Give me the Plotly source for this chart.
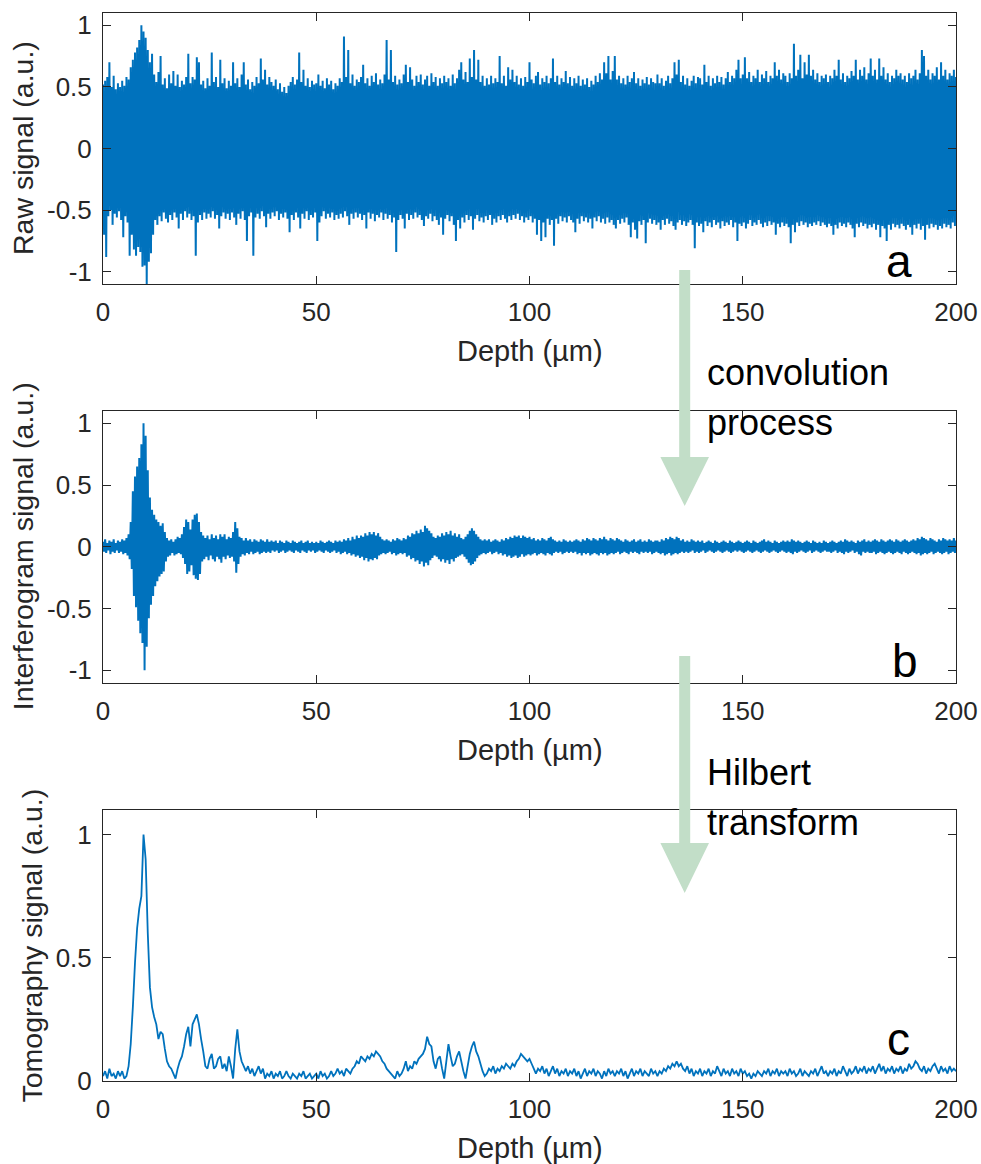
import plotly.graph_objects as go

# ---------------- data ----------------
depth_step = 0.5  # µm between samples
n_samples = 401   # 0 .. 200 µm
depth = [i * depth_step for i in range(n_samples)]

# (a) raw signal: upper / lower extremes of the dense oscillation at each sample
raw_upper = [
    0.52,0.55,0.58,0.70,0.50,0.59,0.48,0.53,0.50,0.55,0.51,0.58,0.56,0.66,0.72,0.78,0.82,0.88,1.00,0.95,
    0.90,0.80,0.70,0.77,0.60,0.54,0.62,0.75,0.52,0.57,0.49,0.60,0.53,0.63,0.51,0.60,0.50,0.55,0.52,0.58,
    0.77,0.53,0.58,0.56,0.74,0.70,0.52,0.55,0.49,0.57,0.51,0.78,0.54,0.58,0.50,0.72,0.53,0.57,0.49,0.55,
    0.51,0.70,0.53,0.57,0.50,0.60,0.70,0.52,0.56,0.48,0.54,0.51,0.58,0.53,0.73,0.56,0.64,0.52,0.58,0.54,
    0.51,0.56,0.48,0.53,0.46,0.50,0.45,0.51,0.54,0.58,0.52,0.56,0.78,0.54,0.64,0.51,0.57,0.50,0.55,0.52,
    0.53,0.60,0.51,0.55,0.49,0.57,0.52,0.55,0.48,0.53,0.51,0.57,0.54,0.91,0.58,0.80,0.53,0.60,0.51,0.56,
    0.54,0.58,0.68,0.53,0.57,0.51,0.59,0.54,0.61,0.52,0.56,0.53,0.60,0.88,0.56,0.80,0.54,0.59,0.52,0.56,
    0.53,0.60,0.68,0.54,0.66,0.56,0.51,0.59,0.54,0.60,0.52,0.56,0.59,0.51,0.61,0.54,0.58,0.51,0.57,0.53,
    0.59,0.54,0.57,0.51,0.60,0.53,0.57,0.64,0.70,0.56,0.62,0.54,0.73,0.58,0.80,0.56,0.72,0.54,0.59,0.51,
    0.57,0.52,0.59,0.53,0.57,0.54,0.75,0.53,0.59,0.51,0.66,0.56,0.64,0.54,0.59,0.52,0.57,0.51,0.58,0.54,
    0.70,0.56,0.53,0.59,0.62,0.52,0.57,0.54,0.59,0.53,0.57,0.73,0.54,0.59,0.52,0.57,0.54,0.63,0.53,0.58,
    0.51,0.57,0.53,0.59,0.51,0.56,0.52,0.57,0.50,0.55,0.52,0.59,0.54,0.61,0.56,0.70,0.61,0.75,0.56,0.63,
    0.75,0.56,0.59,0.53,0.57,0.52,0.59,0.54,0.57,0.62,0.53,0.57,0.51,0.56,0.53,0.58,0.52,0.57,0.54,0.53,
    0.60,0.53,0.57,0.51,0.55,0.59,0.53,0.57,0.70,0.60,0.72,0.54,0.59,0.52,0.57,0.51,0.55,0.59,0.53,0.58,
    0.57,0.52,0.68,0.54,0.59,0.51,0.57,0.53,0.59,0.54,0.58,0.52,0.57,0.62,0.54,0.59,0.57,0.64,0.72,0.57,
    0.60,0.74,0.57,0.62,0.54,0.59,0.57,0.64,0.54,0.60,0.57,0.63,0.54,0.59,0.57,0.70,0.59,0.64,0.56,0.61,
    0.59,0.54,0.61,0.57,0.85,0.59,0.64,0.76,0.57,0.70,0.60,0.76,0.59,0.64,0.56,0.61,0.54,0.59,0.57,0.60,
    0.54,0.59,0.57,0.64,0.59,0.72,0.56,0.61,0.54,0.59,0.57,0.63,0.59,0.72,0.56,0.64,0.59,0.66,0.56,0.61,
    0.73,0.59,0.64,0.56,0.73,0.59,0.66,0.56,0.61,0.54,0.59,0.57,0.64,0.59,0.61,0.56,0.59,0.54,0.61,0.57,
    0.59,0.64,0.56,0.61,0.80,0.75,0.59,0.64,0.56,0.61,0.59,0.66,0.56,0.70,0.59,0.64,0.56,0.61,0.59,0.64,
    0.58,
]
raw_lower = [
    -0.70,-0.88,-0.55,-0.50,-0.62,-0.53,-0.56,-0.51,-0.58,-0.72,-0.55,-0.60,-0.87,-0.70,-0.82,-0.87,-0.80,-0.84,-0.96,-0.95,
    -1.10,-0.92,-0.85,-0.70,-0.58,-0.62,-0.55,-0.59,-0.52,-0.57,-0.60,-0.54,-0.58,-0.52,-0.56,-0.65,-0.53,-0.58,-0.51,-0.56,
    -0.53,-0.58,-0.55,-0.87,-0.60,-0.54,-0.58,-0.52,-0.57,-0.53,-0.56,-0.51,-0.57,-0.54,-0.65,-0.55,-0.52,-0.57,-0.53,-0.58,
    -0.52,-0.56,-0.62,-0.53,-0.57,-0.51,-0.58,-0.75,-0.55,-0.52,-0.87,-0.56,-0.53,-0.57,-0.51,-0.55,-0.64,-0.53,-0.57,-0.52,
    -0.55,-0.51,-0.58,-0.53,-0.56,-0.52,-0.57,-0.68,-0.54,-0.58,-0.52,-0.56,-0.65,-0.53,-0.57,-0.51,-0.58,-0.54,-0.56,-0.52,
    -0.75,-0.60,-0.55,-0.51,-0.57,-0.53,-0.56,-0.52,-0.58,-0.54,-0.57,-0.53,-0.56,-0.51,-0.55,-0.62,-0.53,-0.57,-0.52,-0.56,
    -0.53,-0.58,-0.54,-0.65,-0.52,-0.57,-0.53,-0.59,-0.54,-0.56,-0.52,-0.58,-0.53,-0.57,-0.54,-0.60,-0.56,-0.84,-0.58,-0.54,
    -0.57,-0.65,-0.53,-0.58,-0.54,-0.57,-0.52,-0.56,-0.54,-0.58,-0.63,-0.55,-0.57,-0.53,-0.59,-0.55,-0.58,-0.62,-0.56,-0.70,
    -0.57,-0.54,-0.59,-0.55,-0.62,-0.75,-0.58,-0.65,-0.56,-0.60,-0.54,-0.58,-0.55,-0.66,-0.57,-0.54,-0.59,-0.56,-0.60,-0.55,
    -0.58,-0.54,-0.62,-0.57,-0.60,-0.55,-0.58,-0.54,-0.57,-0.60,-0.55,-0.58,-0.54,-0.57,-0.53,-0.58,-0.55,-0.60,-0.56,-0.58,
    -0.55,-0.60,-0.57,-0.70,-0.58,-0.75,-0.60,-0.72,-0.57,-0.62,-0.58,-0.79,-0.57,-0.61,-0.55,-0.59,-0.56,-0.60,-0.55,-0.58,
    -0.60,-0.68,-0.57,-0.61,-0.55,-0.59,-0.56,-0.60,-0.57,-0.65,-0.56,-0.59,-0.55,-0.60,-0.57,-0.61,-0.56,-0.60,-0.58,-0.62,
    -0.65,-0.58,-0.61,-0.57,-0.60,-0.56,-0.62,-0.72,-0.60,-0.66,-0.73,-0.59,-0.62,-0.58,-0.77,-0.60,-0.57,-0.61,-0.58,-0.62,
    -0.60,-0.66,-0.58,-0.62,-0.57,-0.61,-0.59,-0.63,-0.66,-0.60,-0.58,-0.62,-0.59,-0.63,-0.60,-0.58,-0.62,-0.81,-0.60,-0.63,
    -0.61,-0.68,-0.59,-0.63,-0.60,-0.64,-0.58,-0.62,-0.60,-0.65,-0.59,-0.63,-0.60,-0.62,-0.58,-0.64,-0.60,-0.75,-0.61,-0.63,
    -0.60,-0.65,-0.61,-0.58,-0.63,-0.60,-0.62,-0.58,-0.61,-0.64,-0.60,-0.63,-0.59,-0.62,-0.60,-0.70,-0.61,-0.64,-0.60,-0.63,
    -0.61,-0.64,-0.77,-0.62,-0.68,-0.60,-0.63,-0.59,-0.62,-0.60,-0.64,-0.61,-0.63,-0.60,-0.62,-0.59,-0.63,-0.60,-0.62,-0.64,
    -0.61,-0.63,-0.70,-0.62,-0.65,-0.60,-0.63,-0.61,-0.64,-0.60,-0.62,-0.65,-0.72,-0.61,-0.64,-0.60,-0.63,-0.61,-0.65,-0.62,
    -0.64,-0.61,-0.66,-0.62,-0.72,-0.63,-0.65,-0.75,-0.62,-0.66,-0.61,-0.64,-0.62,-0.65,-0.61,-0.63,-0.66,-0.62,-0.64,-0.70,
    -0.62,-0.65,-0.61,-0.66,-0.63,-0.74,-0.62,-0.65,-0.61,-0.64,-0.62,-0.66,-0.63,-0.65,-0.61,-0.64,-0.62,-0.65,-0.60,-0.63,
    -0.61,
]

# (b) interferogram signal: upper / lower extremes at each sample
interf_upper = [
    0.04,0.06,0.03,0.05,0.04,0.06,0.03,0.05,0.04,0.06,0.05,0.07,0.10,0.20,0.45,0.57,0.65,0.72,0.83,1.00,
    0.90,0.62,0.40,0.30,0.26,0.22,0.20,0.17,0.19,0.12,0.07,0.05,0.06,0.04,0.06,0.08,0.07,0.10,0.16,0.22,
    0.20,0.14,0.22,0.26,0.27,0.20,0.12,0.09,0.07,0.09,0.06,0.10,0.07,0.09,0.06,0.10,0.08,0.10,0.06,0.08,
    0.07,0.12,0.20,0.15,0.08,0.07,0.05,0.07,0.05,0.06,0.04,0.06,0.05,0.04,0.06,0.05,0.04,0.06,0.04,0.05,
    0.04,0.05,0.03,0.05,0.04,0.03,0.05,0.04,0.03,0.05,0.04,0.03,0.04,0.05,0.03,0.04,0.05,0.03,0.04,0.03,
    0.04,0.03,0.05,0.04,0.03,0.04,0.05,0.04,0.03,0.05,0.04,0.05,0.04,0.06,0.05,0.07,0.05,0.08,0.06,0.09,
    0.07,0.09,0.08,0.11,0.09,0.12,0.10,0.12,0.09,0.11,0.08,0.06,0.05,0.06,0.05,0.04,0.06,0.05,0.07,0.06,
    0.05,0.07,0.06,0.09,0.08,0.11,0.10,0.13,0.11,0.14,0.12,0.17,0.15,0.13,0.11,0.08,0.07,0.09,0.08,0.11,
    0.09,0.12,0.10,0.13,0.09,0.11,0.08,0.10,0.07,0.06,0.08,0.10,0.13,0.15,0.13,0.10,0.08,0.06,0.05,0.06,
    0.05,0.06,0.04,0.05,0.06,0.05,0.04,0.06,0.05,0.07,0.06,0.08,0.07,0.09,0.08,0.09,0.07,0.09,0.08,0.07,
    0.08,0.06,0.07,0.05,0.06,0.05,0.07,0.06,0.05,0.07,0.08,0.06,0.05,0.04,0.05,0.04,0.06,0.05,0.04,0.05,
    0.04,0.05,0.06,0.05,0.04,0.06,0.05,0.07,0.06,0.05,0.07,0.06,0.05,0.07,0.06,0.08,0.06,0.05,0.07,0.06,
    0.05,0.07,0.06,0.05,0.04,0.06,0.05,0.04,0.05,0.06,0.04,0.05,0.06,0.04,0.05,0.04,0.06,0.05,0.04,0.05,
    0.05,0.04,0.06,0.05,0.07,0.06,0.08,0.07,0.06,0.08,0.07,0.05,0.06,0.04,0.05,0.04,0.06,0.05,0.04,0.05,
    0.04,0.05,0.03,0.04,0.05,0.04,0.03,0.05,0.04,0.03,0.04,0.05,0.04,0.03,0.05,0.04,0.03,0.04,0.05,0.04,
    0.03,0.04,0.05,0.04,0.03,0.05,0.04,0.03,0.04,0.05,0.06,0.04,0.05,0.04,0.03,0.05,0.04,0.03,0.04,0.05,
    0.04,0.05,0.04,0.06,0.05,0.04,0.05,0.04,0.03,0.04,0.05,0.04,0.03,0.05,0.04,0.03,0.04,0.03,0.05,0.04,
    0.03,0.04,0.05,0.04,0.03,0.04,0.05,0.04,0.06,0.05,0.04,0.05,0.04,0.03,0.05,0.04,0.05,0.06,0.04,0.05,
    0.04,0.05,0.06,0.05,0.04,0.06,0.05,0.04,0.05,0.06,0.05,0.04,0.06,0.05,0.04,0.05,0.06,0.05,0.04,0.05,
    0.06,0.05,0.07,0.06,0.08,0.07,0.06,0.05,0.07,0.06,0.05,0.04,0.06,0.05,0.07,0.06,0.05,0.06,0.05,0.07,
    0.05,
]
interf_lower = [
    -0.04,-0.05,-0.03,-0.06,-0.04,-0.05,-0.03,-0.05,-0.04,-0.06,-0.05,-0.07,-0.10,-0.18,-0.40,-0.49,-0.60,-0.70,-0.78,-1.00,
    -0.81,-0.58,-0.47,-0.40,-0.32,-0.28,-0.24,-0.22,-0.20,-0.12,-0.08,-0.07,-0.05,-0.07,-0.06,-0.05,-0.06,-0.09,-0.14,-0.22,
    -0.20,-0.15,-0.23,-0.26,-0.27,-0.22,-0.12,-0.10,-0.08,-0.11,-0.07,-0.10,-0.12,-0.08,-0.10,-0.13,-0.08,-0.10,-0.07,-0.09,
    -0.08,-0.12,-0.21,-0.14,-0.08,-0.06,-0.07,-0.05,-0.06,-0.04,-0.06,-0.05,-0.04,-0.06,-0.05,-0.04,-0.05,-0.04,-0.05,-0.03,
    -0.04,-0.03,-0.05,-0.04,-0.03,-0.05,-0.04,-0.03,-0.04,-0.05,-0.03,-0.04,-0.05,-0.03,-0.04,-0.05,-0.03,-0.04,-0.03,-0.05,
    -0.04,-0.03,-0.04,-0.05,-0.03,-0.04,-0.05,-0.04,-0.03,-0.05,-0.04,-0.06,-0.05,-0.04,-0.06,-0.05,-0.07,-0.06,-0.08,-0.07,
    -0.09,-0.08,-0.11,-0.09,-0.12,-0.10,-0.11,-0.09,-0.10,-0.07,-0.06,-0.05,-0.06,-0.05,-0.04,-0.06,-0.05,-0.07,-0.06,-0.05,
    -0.06,-0.05,-0.08,-0.07,-0.10,-0.09,-0.12,-0.11,-0.14,-0.12,-0.16,-0.13,-0.15,-0.11,-0.09,-0.07,-0.08,-0.10,-0.12,-0.10,
    -0.13,-0.11,-0.14,-0.10,-0.12,-0.09,-0.08,-0.07,-0.06,-0.08,-0.10,-0.13,-0.15,-0.14,-0.12,-0.09,-0.07,-0.06,-0.05,-0.06,
    -0.05,-0.04,-0.06,-0.05,-0.04,-0.06,-0.05,-0.07,-0.06,-0.08,-0.07,-0.09,-0.08,-0.07,-0.09,-0.08,-0.06,-0.08,-0.07,-0.06,
    -0.07,-0.06,-0.05,-0.07,-0.06,-0.05,-0.06,-0.07,-0.05,-0.06,-0.07,-0.05,-0.04,-0.05,-0.04,-0.06,-0.05,-0.04,-0.05,-0.04,
    -0.05,-0.04,-0.06,-0.05,-0.07,-0.05,-0.06,-0.05,-0.07,-0.06,-0.05,-0.06,-0.07,-0.05,-0.06,-0.05,-0.07,-0.06,-0.05,-0.06,
    -0.05,-0.04,-0.06,-0.05,-0.04,-0.05,-0.06,-0.04,-0.05,-0.04,-0.05,-0.06,-0.04,-0.05,-0.04,-0.05,-0.04,-0.06,-0.05,-0.04,
    -0.05,-0.06,-0.05,-0.07,-0.06,-0.05,-0.07,-0.06,-0.05,-0.06,-0.05,-0.04,-0.05,-0.04,-0.05,-0.04,-0.03,-0.05,-0.04,-0.05,
    -0.04,-0.03,-0.05,-0.04,-0.03,-0.04,-0.05,-0.04,-0.03,-0.04,-0.05,-0.04,-0.03,-0.04,-0.05,-0.04,-0.03,-0.04,-0.03,-0.04,
    -0.05,-0.04,-0.03,-0.04,-0.05,-0.04,-0.03,-0.04,-0.05,-0.04,-0.03,-0.04,-0.05,-0.04,-0.03,-0.04,-0.05,-0.04,-0.03,-0.04,
    -0.05,-0.04,-0.05,-0.06,-0.04,-0.05,-0.04,-0.03,-0.04,-0.05,-0.04,-0.03,-0.05,-0.04,-0.03,-0.04,-0.05,-0.04,-0.03,-0.04,
    -0.04,-0.05,-0.04,-0.03,-0.05,-0.04,-0.05,-0.06,-0.04,-0.05,-0.04,-0.03,-0.05,-0.04,-0.06,-0.07,-0.04,-0.05,-0.04,-0.05,
    -0.05,-0.04,-0.06,-0.05,-0.04,-0.05,-0.06,-0.05,-0.04,-0.05,-0.06,-0.05,-0.04,-0.05,-0.06,-0.04,-0.05,-0.06,-0.05,-0.04,
    -0.05,-0.06,-0.05,-0.07,-0.06,-0.05,-0.06,-0.05,-0.04,-0.06,-0.05,-0.04,-0.05,-0.06,-0.05,-0.04,-0.06,-0.05,-0.04,-0.05,
    -0.05,
]

# (c) tomography signal (envelope after Hilbert transform)
tomo = [
    0.02,0.04,0.01,0.05,0.02,0.03,0.01,0.04,0.02,0.04,0.01,0.02,0.06,0.15,0.30,0.48,0.62,0.70,0.75,1.00,
    0.90,0.60,0.38,0.30,0.26,0.23,0.17,0.20,0.19,0.13,0.08,0.06,0.05,0.03,0.01,0.05,0.08,0.10,0.14,0.19,
    0.22,0.14,0.23,0.25,0.27,0.23,0.17,0.12,0.06,0.05,0.09,0.11,0.05,0.06,0.09,0.10,0.05,0.07,0.04,0.10,
    0.06,0.01,0.13,0.21,0.12,0.08,0.06,0.04,0.06,0.03,0.05,0.02,0.04,0.06,0.03,0.05,0.01,0.03,0.02,0.04,
    0.01,0.03,0.02,0.04,0.01,0.02,0.04,0.02,0.01,0.03,0.02,0.01,0.03,0.02,0.04,0.01,0.02,0.03,0.01,0.02,
    0.03,0.01,0.04,0.02,0.03,0.01,0.02,0.04,0.02,0.03,0.05,0.03,0.04,0.02,0.05,0.04,0.03,0.05,0.06,0.08,
    0.07,0.10,0.09,0.08,0.10,0.09,0.11,0.10,0.12,0.11,0.10,0.08,0.07,0.05,0.04,0.03,0.02,0.01,0.04,0.02,
    0.03,0.05,0.08,0.04,0.06,0.05,0.08,0.07,0.09,0.10,0.11,0.13,0.18,0.15,0.14,0.08,0.05,0.09,0.10,0.05,
    0.01,0.08,0.15,0.10,0.06,0.07,0.10,0.12,0.08,0.04,0.01,0.06,0.11,0.14,0.16,0.12,0.10,0.07,0.04,0.02,
    0.03,0.05,0.04,0.06,0.03,0.05,0.04,0.06,0.05,0.07,0.06,0.05,0.07,0.06,0.08,0.09,0.11,0.10,0.09,0.08,
    0.09,0.07,0.05,0.03,0.05,0.04,0.06,0.03,0.05,0.02,0.04,0.06,0.03,0.05,0.02,0.04,0.03,0.05,0.02,0.04,
    0.03,0.05,0.02,0.04,0.01,0.03,0.05,0.02,0.04,0.03,0.05,0.02,0.04,0.03,0.01,0.04,0.02,0.05,0.03,0.04,
    0.02,0.04,0.03,0.05,0.02,0.04,0.01,0.03,0.05,0.02,0.04,0.03,0.05,0.02,0.04,0.03,0.02,0.05,0.03,0.04,
    0.02,0.04,0.03,0.05,0.04,0.06,0.05,0.07,0.06,0.08,0.06,0.07,0.05,0.04,0.06,0.03,0.05,0.02,0.04,0.03,
    0.05,0.02,0.04,0.03,0.05,0.02,0.04,0.03,0.06,0.04,0.02,0.05,0.03,0.04,0.02,0.05,0.03,0.04,0.02,0.05,
    0.03,0.04,0.02,0.03,0.01,0.03,0.02,0.04,0.03,0.02,0.04,0.03,0.05,0.02,0.04,0.03,0.05,0.02,0.04,0.03,
    0.04,0.02,0.05,0.03,0.04,0.02,0.03,0.05,0.02,0.04,0.03,0.02,0.04,0.03,0.05,0.02,0.04,0.06,0.03,0.04,
    0.02,0.04,0.03,0.05,0.02,0.04,0.03,0.06,0.04,0.02,0.05,0.03,0.04,0.06,0.03,0.05,0.04,0.06,0.03,0.05,
    0.04,0.06,0.03,0.05,0.07,0.04,0.06,0.03,0.05,0.04,0.06,0.03,0.05,0.04,0.06,0.03,0.05,0.04,0.07,0.05,
    0.06,0.08,0.07,0.05,0.04,0.06,0.03,0.05,0.04,0.06,0.07,0.05,0.03,0.06,0.04,0.05,0.03,0.06,0.04,0.05,
    0.04,
]

x_ticks = [0, 50, 100, 150, 200]
x_tick_text = ["0", "50", "100", "150", "200"]
y_ticks_signed = [-1, -0.5, 0, 0.5, 1]
y_tick_text_signed = ["-1", "-0.5", "0", "0.5", "1"]
y_ticks_pos = [0, 0.5, 1]
y_tick_text_pos = ["0", "0.5", "1"]

panel_labels = ["a", "b", "c"]
y_titles = ["Raw signal (a.u.)", "Interferogram signal (a.u.)", "Tomography signal (a.u.)"]
x_title = "Depth (µm)"
step_texts = [["convolution", "process"], ["Hilbert", "transform"]]

# ---------------- styling ----------------
W, H = 981, 1164
BLUE = "#0072BD"
AX = "#262626"
GREEN = "rgb(194,222,200)"
FONT = "Liberation Sans, Arial, Helvetica, sans-serif"


def px_x(p):
    return p / W


def px_y(p):
    return 1 - p / H


plot_left, plot_right = 103, 956
panels_px = [(13, 284), (411, 682.5), (810, 1081)]


def zigzag(xs, up, lo, half):
    zx, zy = [], []
    for d, u, l in zip(xs, up, lo):
        zx += [d, d + half]
        zy += [u, l]
    return zx, zy


fig = go.Figure()
ax_, ay_ = zigzag(depth, raw_upper, raw_lower, depth_step / 2)
fig.add_trace(go.Scatter(x=ax_, y=ay_, mode="lines", line=dict(color=BLUE, width=2, simplify=False),
                         xaxis="x", yaxis="y", showlegend=False, hoverinfo="skip"))
bx_, by_ = zigzag(depth, interf_upper, interf_lower, depth_step / 2)
fig.add_trace(go.Scatter(x=bx_, y=by_, mode="lines", line=dict(color=BLUE, width=2, simplify=False),
                         xaxis="x2", yaxis="y2", showlegend=False, hoverinfo="skip"))
fig.add_trace(go.Scatter(x=depth, y=tomo, mode="lines", line=dict(color=BLUE, width=1.8, simplify=False),
                         xaxis="x3", yaxis="y3", showlegend=False, hoverinfo="skip"))

axis_common = dict(showline=True, linecolor=AX, linewidth=1, mirror="ticks", ticks="inside",
                   ticklen=8, tickwidth=1, tickcolor=AX, showgrid=False, zeroline=False,
                   automargin=False, tickfont=dict(family=FONT, size=26, color=AX))

layout = dict(width=W, height=H, autosize=False,
              margin=dict(l=0, r=0, t=0, b=0, pad=0, autoexpand=False),
              paper_bgcolor="white", plot_bgcolor="white", showlegend=False)

names = [("xaxis", "yaxis", "x", "y"), ("xaxis2", "yaxis2", "x2", "y2"), ("xaxis3", "yaxis3", "x3", "y3")]
for i, (xa, ya, xn, yn) in enumerate(names):
    top, bot = panels_px[i]
    layout[xa] = dict(domain=[px_x(plot_left), px_x(plot_right)], anchor=yn, range=[0, 200],
                      tickvals=x_ticks, ticktext=x_tick_text, ticklabelstandoff=5, **axis_common)
    if i < 2:
        layout[ya] = dict(domain=[px_y(bot), px_y(top)], anchor=xn, range=[-1.1, 1.1],
                          tickvals=y_ticks_signed, ticktext=y_tick_text_signed, ticklabelstandoff=5,
                          **axis_common)
    else:
        layout[ya] = dict(domain=[px_y(bot), px_y(top)], anchor=xn, range=[0, 1.1],
                          tickvals=y_ticks_pos, ticktext=y_tick_text_pos, ticklabelstandoff=5,
                          **axis_common)

fig.update_layout(**layout)

ann = []
# y-axis titles
ytitle_x = [22.5, 22.5, 31]
for i, t in enumerate(y_titles):
    top, bot = panels_px[i]
    ann.append(dict(text=t, x=px_x(ytitle_x[i]), y=px_y((top + bot) / 2), xref="paper", yref="paper",
                    textangle=-90, showarrow=False, xanchor="center", yanchor="middle",
                    font=dict(family=FONT, size=28.5, color=AX)))
# x-axis titles
for i in range(3):
    top, bot = panels_px[i]
    ann.append(dict(text=x_title, x=px_x((plot_left + plot_right) / 2), y=px_y(bot + 67), xref="paper",
                    yref="paper", showarrow=False, xanchor="center", yanchor="middle",
                    font=dict(family=FONT, size=29, color=AX)))
# panel letters
letter_center = [(899, 261), (905, 661), (898, 1039)]
for lab, (cx, cy) in zip(panel_labels, letter_center):
    ann.append(dict(text=lab, x=px_x(cx), y=px_y(cy), xref="paper", yref="paper", showarrow=False,
                    xanchor="center", yanchor="middle", font=dict(family=FONT, size=46, color="black")))
# step texts
step_pos = [[372.5, 422.5], [772.5, 822.5]]
for lines, ys in zip(step_texts, step_pos):
    for t, yc in zip(lines, ys):
        ann.append(dict(text=t, x=px_x(705), y=px_y(yc), xref="paper", yref="paper", showarrow=False,
                        xanchor="left", yanchor="middle", font=dict(family=FONT, size=36, color="black")))
fig.update_layout(annotations=ann)

# green process arrows (shaft + head)
shapes = []
arrows_px = [(270, 457, 506), (656, 843, 893)]
cx = 684.7
for top, head, tip in arrows_px:
    path = (f"M {px_x(cx-5.5)},{px_y(top)} L {px_x(cx+5.5)},{px_y(top)} L {px_x(cx+5.5)},{px_y(head)} "
            f"L {px_x(cx+24.3)},{px_y(head)} L {px_x(cx)},{px_y(tip)} L {px_x(cx-24.3)},{px_y(head)} "
            f"L {px_x(cx-5.5)},{px_y(head)} Z")
    shapes.append(dict(type="path", path=path, xref="paper", yref="paper", fillcolor=GREEN,
                       line=dict(width=0), layer="above"))
fig.update_layout(shapes=shapes)

fig.write_html("out.html")
